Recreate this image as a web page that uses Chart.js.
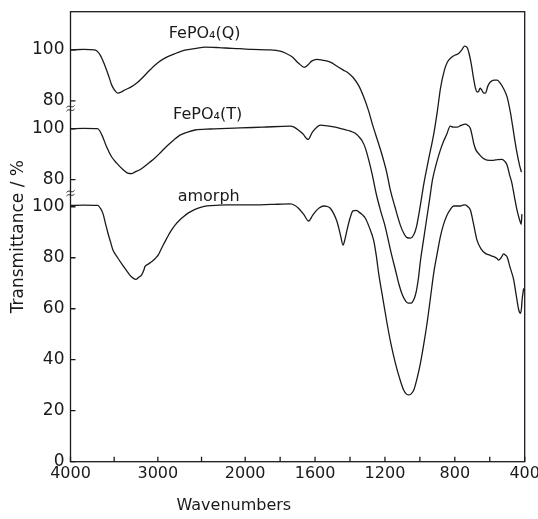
<!DOCTYPE html>
<html><head><meta charset="utf-8">
<script src="https://cdn.jsdelivr.net/npm/chart.js@4.4.1/dist/chart.umd.min.js"></script>
<style>html,body{margin:0;padding:0;background:#fff;} canvas{display:block;}</style>
</head><body>
<canvas id="c" width="538" height="519"></canvas>
<script>
// ---- data (wavenumber / cm-1, transmittance / %) ----
const waveQ  = [4000,3850,3724,3660,3609,3560,3528,3490,3460,3420,3379,3310,3241,3170,3092,3000,2920,2800,2690,2560,2460,2300,2150,2057,1960,1857,1800,1771,1730,1696,1662,1640,1620,1589,1560,1513,1470,1438,1410,1380,1350,1322,1295,1268,1240,1219,1190,1169,1143,1112,1090,1076,1054,1035,1020,997,977,951,920,900,882,860,843,820,798,780,760,745,730,718,705,693,682,672,665,655,648,636,625,610,597,575,557,540,522,501,481,470,447,430,419];
const transQ = [100,100.2,100,98,94.1,89.5,86.2,84,83.1,83.5,84.3,85.4,87,89.3,92.1,95,96.8,98.6,99.9,100.6,101.1,100.9,100.6,100.5,100.2,100,99.5,98.8,97.2,94.9,93.2,94.2,95.6,96.3,96,95.2,93.4,92.1,91,89,86,81.6,76.4,70,64,59.4,52,45,38.5,31.3,27.8,26.5,26.2,27.5,30.5,39.2,47.7,56.8,67.3,76,85,92,95.2,97,98,98.5,100,101.5,101,98.5,94.1,89,85,83.5,83.6,85,84.5,83.2,83.1,86,87.4,88.2,88.2,87,85,81.6,75.2,70.5,60.7,54.9,52.1];

const waveT  = [4000,3850,3690,3640,3586,3530,3471,3400,3345,3300,3264,3200,3149,3034,2960,2896,2820,2747,2650,2574,2400,2200,2057,1900,1742,1720,1696,1670,1640,1616,1590,1570,1530,1484,1440,1398,1370,1352,1330,1312,1290,1272,1250,1226,1200,1181,1160,1140,1120,1100,1080,1066,1050,1043,1030,1020,1008,997,980,963,945,928,905,883,865,848,826,810,787,765,740,725,711,700,692,678,664,640,616,580,555,530,515,501,487,473,458,444,429,420,416];
const transT = [100,100.1,100,97.5,92.8,89,86.5,84,82.6,82.4,83,84,85.3,88.5,91,93.2,95.5,97.5,98.8,99.5,99.9,100.1,100.3,100.6,101,100.6,99.5,98,95.8,98.6,100.6,101.4,101.1,100.6,99.8,99.1,98.2,97.1,95.2,92.4,87,81.8,74.5,68.1,62,56.3,50,44.6,39,34.8,32.3,31.6,31.6,32,33.8,36.4,41.5,48.1,56,63.8,72,79.9,86.5,91.6,95,97.5,101,100.6,100.6,101.3,101.8,101.3,100.1,97,94.3,91.5,90.3,88.5,87.7,87.6,87.9,88,87.3,85.8,82,78.6,73,68.1,64.2,62.5,66.5];

const waveA  = [4000,3850,3687,3660,3629,3600,3571,3540,3514,3460,3417,3370,3321,3280,3252,3220,3187,3160,3148,3110,3071,3030,2995,2950,2898,2850,2803,2750,2707,2650,2592,2520,2438,2300,2208,2100,1970,1850,1742,1715,1695,1665,1637,1615,1599,1575,1551,1530,1513,1495,1474,1455,1440,1428,1417,1400,1383,1365,1350,1330,1312,1290,1265,1250,1236,1212,1188,1165,1140,1115,1093,1078,1064,1050,1035,1015,997,978,959,940,921,900,883,865,845,825,807,785,768,755,740,725,711,695,673,650,625,600,577,560,549,535,520,510,501,485,463,448,434,424,418,415,406];
const transA = [100.5,100.6,100.5,99.5,97.4,93.5,89.6,86,83,80,77.8,75.5,73.2,71.9,71.5,72.3,73.2,75.2,76.5,77.5,78.4,79.7,81.1,84.2,87.6,90.5,92.8,94.8,96.1,97.6,98.7,99.7,100.3,100.6,100.7,100.7,100.7,100.9,101.1,100.5,99.4,97,94.4,96.5,98,99.6,100.3,100.1,99.4,97.5,94.1,89,85,87.5,90.9,95.5,98.4,98.6,98,96.9,95.5,92,86.9,81,73.9,64,54.3,46,38.6,32.5,28.1,26.6,26.2,26.6,28.1,33,38.6,46,54.3,64,73.9,82,88.2,93,96.7,99,100.3,100.3,100.3,100.6,100.7,100,98.7,94,86.9,83.5,81.7,81,80.4,79.8,79.1,80,81.5,81,80.4,76.5,71.3,65,59.5,58.2,60.5,63.4,68];

const xLabelWaves = [4000,3000,2000,1600,1200,800,400];
const xTickLabels = ['4000','3000','2000','1600','1200','800','400'];
const xMinorWaves = [3500,2500,1800,1400,1000,600];
const yTickValues  = [0,20,40,60,80,100];
const yTickValuesT = [80,100];
const yTickValuesQ = [80,100];
const curveNames = ['FePO\u2084(Q)','FePO\u2084(T)','amorph'];

// vertical stacking offsets of the spectra (in % units)
const offsetQ = 61.5, offsetT = 30.6;

// x axis: 2x expanded scale below 2000 cm-1
function t(w){ return w >= 2000 ? (4000 - w) / 2 : 1000 + (2000 - w); }
function series(waves, vals, off){ return waves.map((w,i)=>({x:t(w), y:vals[i]+off})); }

const yTicks = [
  ...yTickValues.map(v=>({v:v, label:String(v)})),
  ...yTickValuesT.map(v=>({v:v+offsetT, label:String(v)})),
  ...yTickValuesQ.map(v=>({v:v+offsetQ, label:String(v)}))
].sort((a,b)=>a.v-b.v);

const FONT = "'DejaVu Sans', sans-serif";
const INK = '#1a1a1a';

const labelAnchors = [
  {w:2464, v:167.8},
  {w:2430, v:136.2},
  {w:2418, v:104.0}
];
const breakValues = [138.6, 105.3];

const decor = {
  id:'decor',
  afterDraw(chart){
    const ctx = chart.ctx;
    const {left,right,top,bottom} = chart.chartArea;
    const xs = chart.scales.x, ys = chart.scales.y;
    ctx.save();
    ctx.strokeStyle = INK; ctx.lineWidth = 1.3;
    ctx.strokeRect(left, top, right-left, bottom-top);
    ctx.beginPath();
    [...xLabelWaves, ...xMinorWaves].forEach(w=>{
      const px = xs.getPixelForValue(t(w));
      ctx.moveTo(px, bottom); ctx.lineTo(px, bottom-5);
    });
    yTicks.forEach(o=>{
      const py = ys.getPixelForValue(o.v);
      ctx.moveTo(left, py); ctx.lineTo(left+5, py);
    });
    ctx.stroke();
    ctx.lineWidth = 1;
    breakValues.forEach(v=>{
      const py = ys.getPixelForValue(v);
      [-1.8, 1.8].forEach(k=>{
        ctx.beginPath();
        ctx.moveTo(left-4, py+k+1);
        ctx.bezierCurveTo(left-1, py+k-2.5, left+1, py+k+2.5, left+4, py+k-1);
        ctx.stroke();
      });
    });
    ctx.fillStyle = INK;
    ctx.font = '16px ' + FONT;
    ctx.textAlign = 'center'; ctx.textBaseline = 'middle';
    labelAnchors.forEach((a,i)=>{
      ctx.fillText(curveNames[i], xs.getPixelForValue(t(a.w)), ys.getPixelForValue(a.v));
    });
    ctx.fillText('Wavenumbers', xs.getPixelForValue(t(2130)), bottom + 44);
    ctx.restore();
  }
};

const lineStyle = {borderColor:INK, borderWidth:1.3, pointRadius:0, fill:false, cubicInterpolationMode:'monotone'};

new Chart(document.getElementById('c'), {
  type:'line',
  data:{datasets:[
    Object.assign({data:series(waveQ, transQ, offsetQ)}, lineStyle),
    Object.assign({data:series(waveT, transT, offsetT)}, lineStyle),
    Object.assign({data:series(waveA, transA, 0)}, lineStyle)
  ]},
  options:{
    responsive:false, animation:false, devicePixelRatio:1,
    layout:{padding:{left:0, top:11.7, right:13.3, bottom:0}},
    plugins:{legend:{display:false}, tooltip:{enabled:false}},
    scales:{
      x:{
        type:'linear', min:0, max:2600,
        grid:{display:false, drawTicks:false}, border:{display:false},
        afterBuildTicks: s => { s.ticks = xLabelWaves.map(w=>({value:t(w)})); },
        ticks:{autoSkip:false, maxRotation:0, minRotation:0, padding:3, color:INK,
               font:{family:FONT, size:16}, callback:(v,i)=>xTickLabels[i]},
        afterFit: s => { s.height = 57.3; s.paddingLeft = 0; s.paddingRight = 0; }
      },
      y:{
        type:'linear', min:0, max:176.5,
        grid:{display:false, drawTicks:false}, border:{display:false},
        afterBuildTicks: s => { s.ticks = yTicks.map(o=>({value:o.v})); },
        ticks:{autoSkip:false, padding:6, color:INK, font:{family:FONT, size:17},
               callback:(v,i)=>yTicks[i].label},
        title:{display:true, text:'Transmittance / %', color:INK,
               font:{family:FONT, size:17}, padding:{top:8, bottom:0}},
        afterFit: s => { s.width = 70.5; s.paddingTop = 0; s.paddingBottom = 0; }
      }
    }
  },
  plugins:[decor]
});
</script>
</body></html>
